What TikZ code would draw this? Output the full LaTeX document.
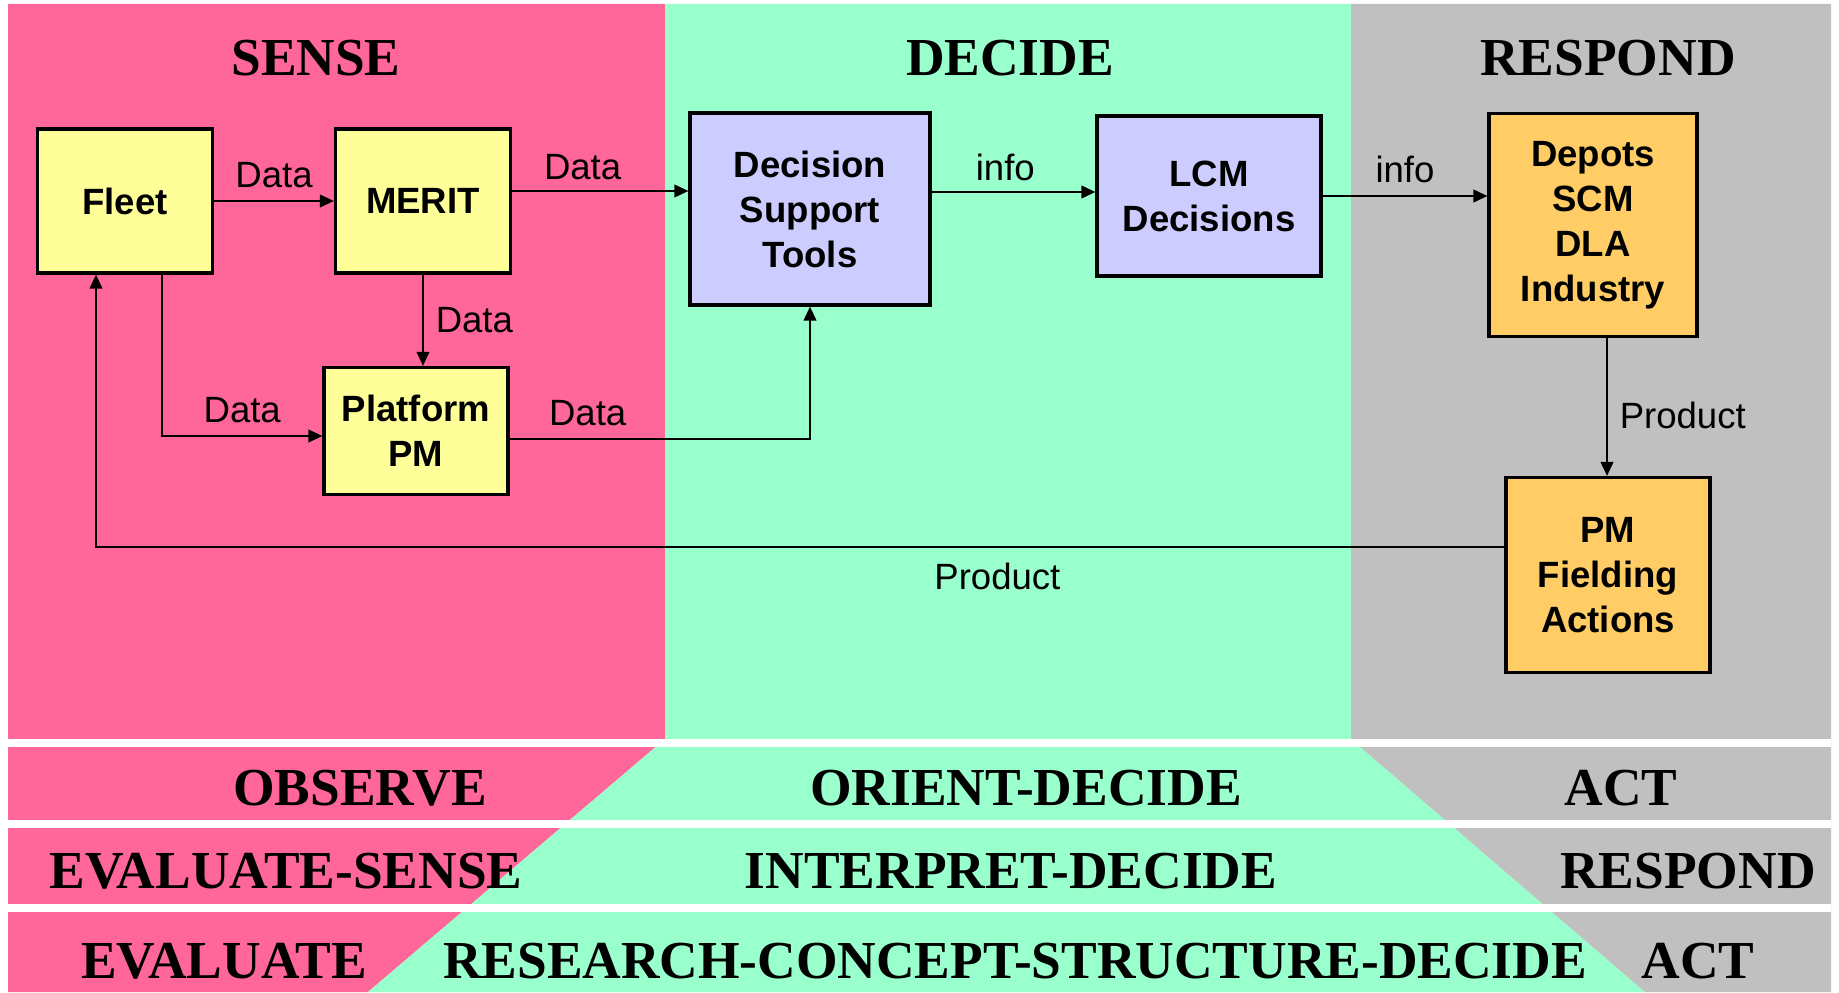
\documentclass[tikz,border=0pt]{standalone}
\usepackage{fontspec}
\setmainfont{Liberation Serif}
\setsansfont{Liberation Sans}
\usetikzlibrary{arrows.meta}

\definecolor{sensepink}{RGB}{255,102,153}
\definecolor{decidegreen}{RGB}{153,255,204}
\definecolor{respondgray}{RGB}{192,192,192}
\definecolor{boxyellow}{RGB}{255,255,153}
\definecolor{boxblue}{RGB}{204,204,255}
\definecolor{boxorange}{RGB}{255,204,102}

\begin{document}
\begin{tikzpicture}[line width=0.6pt,
  box/.style={draw=black,line width=0.9pt,align=center,inner sep=1pt,
    font=\sffamily\bfseries\fontsize{10.4}{12.8}\selectfont},
  title/.style={anchor=base,inner sep=0pt,font=\bfseries\fontsize{15.2}{18}\selectfont},
  lbl/.style={font=\sffamily\fontsize{10.4}{12.5}\selectfont},
  arr/.style={-{Triangle[length=4pt,width=3.6pt]}}]

  \useasboundingbox (0,0) rectangle (18.39,9.92);

  % coloured bands
  \fill[sensepink] (0.08,9.88) -- (6.65,9.88) -- (6.65,2.53) -- (3.68,0) -- (0.08,0) -- cycle;
  \fill[decidegreen] (6.65,9.88) -- (13.51,9.88) -- (13.51,2.53) -- (16.45,0)
    -- (3.68,0) -- (6.65,2.53) -- cycle;
  \fill[respondgray] (13.51,9.88) -- (18.31,9.88) -- (18.31,0) -- (16.45,0) -- (13.51,2.53) -- cycle;
  \foreach \y in {2.45,1.64,0.80}
    \fill[white] (0.08,\y) rectangle (18.31,\y+0.085);

  % titles
  \node[title] (sense) at (3.16,9.16) {SENSE};
  \node[title] (decide) at (10.10,9.16) {DECIDE};
  \node[title] (respond) at (16.08,9.16) {RESPOND};

  \node[title] (observe) at (3.60,1.87) {OBSERVE};
  \node[title] (orient) at (10.26,1.87) {ORIENT-DECIDE};
  \node[title] (act1) at (16.21,1.87) {ACT};
  \node[title] (evalsense) at (2.86,1.04) {EVALUATE-SENSE};
  \node[title] (interpret) at (10.11,1.04) {INTERPRET-DECIDE};
  \node[title] (respond2) at (16.88,1.04) {RESPOND};
  \node[title] (evaluate) at (2.24,0.14) {EVALUATE};
  \node[title] (research) at (10.15,0.14) {RESEARCH-CONCEPT-STRUCTURE-DECIDE};
  \node[title] (act2) at (16.98,0.14) {ACT};

  % boxes
  \node[box,fill=boxyellow,minimum width=1.75cm,minimum height=1.44cm] (fleet) at (1.25,7.91) {Fleet};
  \node[box,fill=boxyellow,minimum width=1.75cm,minimum height=1.44cm] (merit) at (4.23,7.91) {MERIT};
  \node[box,fill=boxyellow,minimum width=1.84cm,minimum height=1.27cm] (ppm) at (4.16,5.61) {Platform\\PM};
  \node[box,fill=boxblue,minimum width=2.40cm,minimum height=1.92cm] (dst) at (8.10,7.83) {Decision\\Support\\Tools};
  \node[box,fill=boxblue,minimum width=2.24cm,minimum height=1.60cm] (lcm) at (12.09,7.96) {LCM\\Decisions};
  \node[box,fill=boxorange,minimum width=2.08cm,minimum height=2.23cm] (depots) at (15.93,7.67) {Depots\\SCM\\DLA\\Industry};
  \node[box,fill=boxorange,minimum width=2.04cm,minimum height=1.95cm] (pmf) at (16.08,4.17) {PM\\Fielding\\Actions};

  % flows
  \draw[arr] (fleet.east) -- node[lbl,above] (d1) {Data} (merit.west);
  \draw[arr] ([yshift=1mm]merit.east) -- node[lbl,above=-0.5pt,pos=0.4] (d2) {Data} ([yshift=1mm]merit.east -| dst.west);
  \draw[arr] (merit.south) -- node[lbl,right] (d3) {Data} (merit.south |- ppm.north);
  \draw[arr] ([xshift=3.7mm]fleet.south) |- node[lbl,above,pos=0.75] (d4) {Data} ([yshift=-0.5mm]ppm.west);
  \draw[arr] ([yshift=-0.8mm]ppm.east) -| node[lbl,above,pos=0.13] (d5) {Data} (dst.south);
  \draw[arr] ([yshift=1.7mm]dst.east) -- node[lbl,above=-0.5pt,pos=0.45] (i1) {info} ([yshift=1.7mm]dst.east -| lcm.west);
  \draw[arr] (lcm.east) -- node[lbl,above] (i2) {info} (lcm.east -| depots.west);
  \draw[arr] ([xshift=1.4mm]depots.south) -- node[lbl,right,pos=0.56] (p1) {Product} ([xshift=1.4mm]depots.south |- pmf.north);
  \draw[arr] ([yshift=2.8mm]pmf.west) -| node[lbl,below=1pt,pos=0.18] (p2) {Product} ([xshift=-2.9mm]fleet.south);
\end{tikzpicture}
\end{document}
